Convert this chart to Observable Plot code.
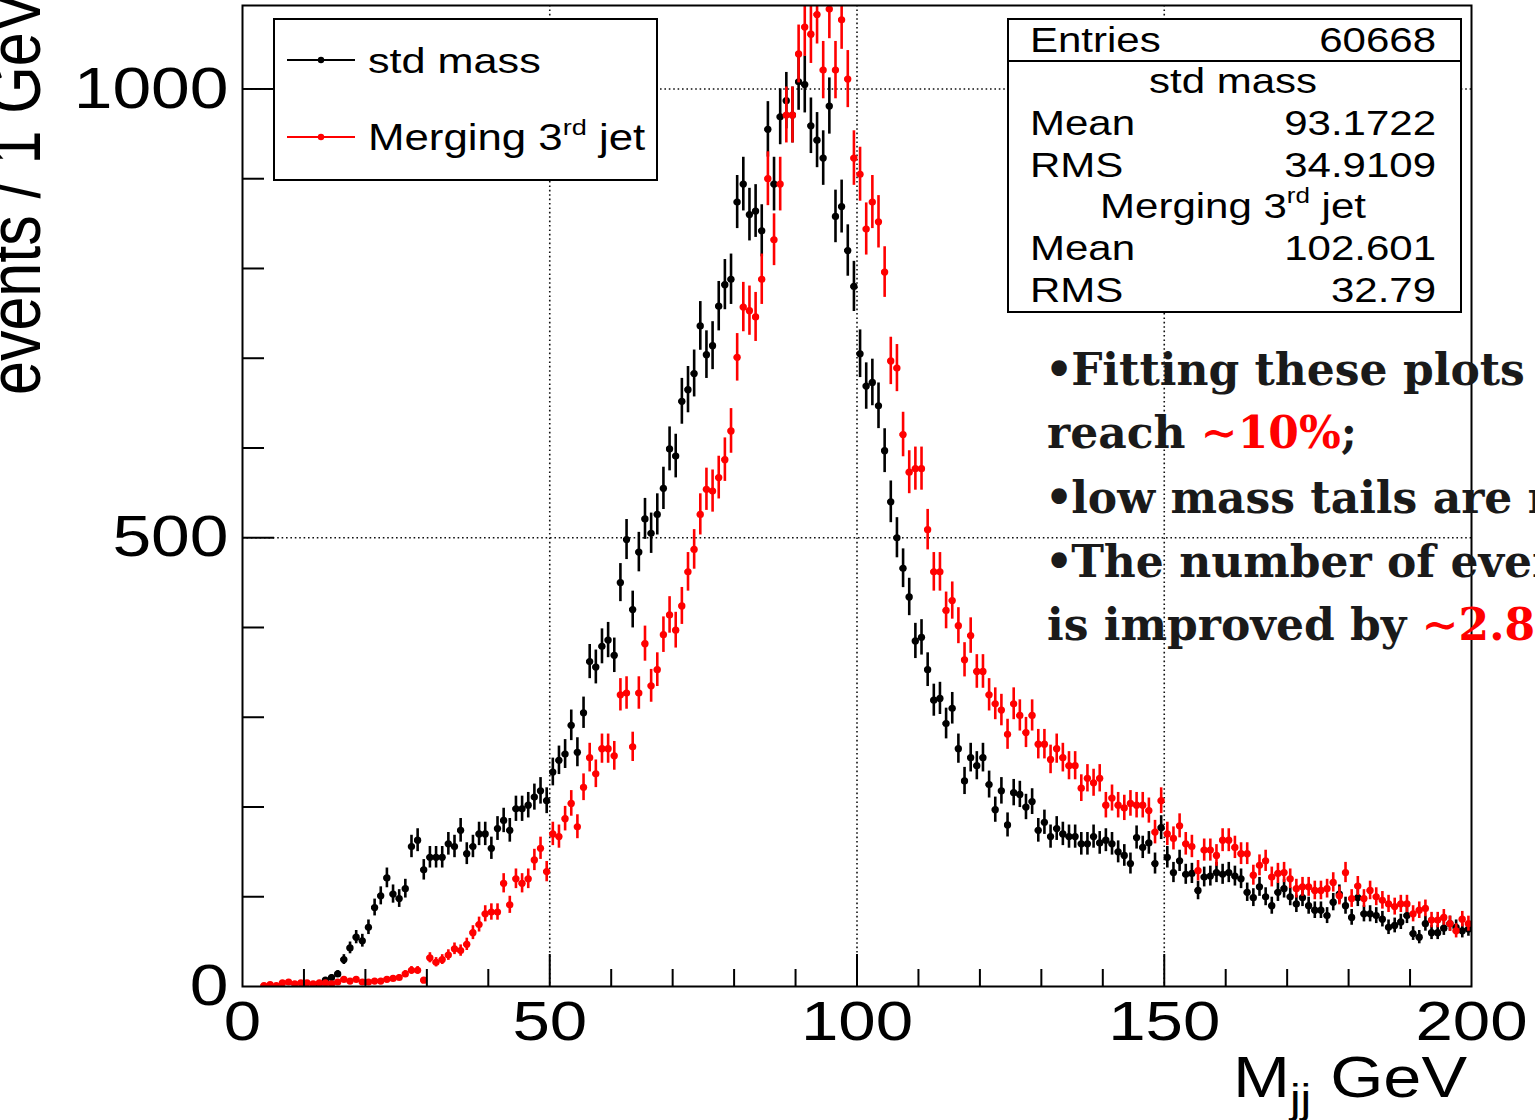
<!DOCTYPE html>
<html>
<head>
<meta charset="utf-8">
<script src="https://cdn.jsdelivr.net/npm/d3@7"></script>
<script src="https://cdn.jsdelivr.net/npm/@observablehq/plot@0.6"></script>
<style>
  html, body { margin: 0; padding: 0; background: #fff; overflow: hidden; }
  #wrap { position: relative; width: 1535px; height: 1120px; overflow: hidden; background: #fff; }
  #wrap svg { position: absolute; left: 0; top: 0; }
</style>
</head>
<body>
<div id="wrap"></div>
<script>
// ---------------- data ----------------
// 1 GeV bins, low edges 0..199
const binLow = d3.range(0, 200);

// events per bin, "std mass" (black)
const stdMass = [
  0,0,0,0,0,0,0,0,0,0,           // 0-9
  0,0,3,7,10,14,30,43,55,51,     // 10-19
  66,88,101,121,103,98,109,156,163,130, // 20-29
  144,144,144,159,156,174,148,156,170,170, // 30-39
  154,176,185,174,198,198,202,211,218,207, // 40-49
  239,252,259,291,261,305,362,356,379,386, // 50-59
  369,450,498,420,484,521,505,526,555,599, // 60-69
  591,652,665,683,736,704,714,758,782,788, // 70-79
  874,894,860,864,842,955,894,969,987,971, // 80-89
  1008,1005,959,943,923,981,858,869,820,780, // 90-99
  705,669,673,647,597,540,500,466,434,385, // 100-109
  389,353,319,321,293,310,265,229,255,246, // 110-119
  255,225,197,218,180,216,214,200,206,174, // 120-129
  183,167,176,170,167,167,159,159,167,160, // 130-139
  163,159,150,146,137,166,155,160,137,177, // 140-149
  144,127,140,125,126,107,122,123,127,125, // 150-159
  127,123,120,105,99,111,100,90,105,109,   // 160-169
  100,92,99,90,85,85,79,94,103,90,         // 170-179
  77,99,81,81,79,75,66,68,72,79,           // 180-189
  59,55,70,60,60,65,70,66,62,64            // 190-199
];

// events per bin, "Merging 3rd jet" (red)
const merging3rd = [
  0,0,0,1,2,1,4,5,3,4,           // 0-9
  4,3,4,4,3,5,8,6,8,5,           // 10-19
  5,6,6,8,9,10,14,18,18,7,       // 20-29
  32,27,30,35,42,40,47,60,69,81, // 30-39
  83,83,115,91,120,115,120,141,154,128, // 40-49
  170,167,187,204,178,222,255,237,265,265, // 50-59
  257,325,327,267,327,382,335,353,392,414, // 60-69
  397,424,462,487,526,554,552,567,587,619, // 70-79
  701,757,753,746,788,900,832,894,971,971, // 80-89
  1039,1069,1061,1083,1021,1089,1021,1077,1011,923, // 90-99
  905,844,874,852,796,697,689,615,573,577, // 100-109
  577,509,462,462,419,430,402,364,391,351, // 110-119
  351,325,315,308,281,315,302,283,302,270, // 120-129
  270,253,265,255,246,246,221,232,227,232, // 130-139
  202,210,202,199,204,202,202,196,172,207, // 140-149
  170,165,179,159,156,129,152,152,146,163, // 150-159
  163,155,148,148,124,135,140,122,126,127, // 160-169
  120,109,111,111,107,107,109,116,101,127, // 170-179
  98,112,98,107,100,96,92,89,92,92,        // 180-189
  81,85,87,74,74,77,70,62,75,70            // 190-199
];

const xMajorTicks = [50, 100, 150];
const xMinorTicks = [10, 20, 30, 40, 60, 70, 80, 90, 110, 120, 130, 140, 160, 170, 180, 190];
const yMajorTicks = [500, 1000];
const yMinorTicks = [100, 200, 300, 400, 600, 700, 800, 900];
const xTickLabels = [0, 50, 100, 150, 200];
const yTickLabels = [0, 500, 1000];

const seriesNames = ["std mass", "Merging 3rd jet"];
const seriesColors = ["#000000", "#ff0000"];

const statsEntries = "60668";
const statsRows = [
  {name: "std mass", mean: "93.1722", rms: "34.9109"},
  {name: "Merging 3rd jet", mean: "102.601", rms: "32.79"}
];

// ---------------- build ----------------
function rowsFor(values) {
  return binLow.map((lo, i) => ({lo, hi: lo + 1, mid: lo + 0.5, n: values[i]}))
               .filter(d => d.n > 0);
}
const blackRows = rowsFor(stdMass);
const redRows = rowsFor(merging3rd);

function histMarks(rows, color) {
  return [
    Plot.ruleX(rows, {x: "mid", y1: d => d.n - Math.sqrt(d.n), y2: d => d.n + Math.sqrt(d.n),
                      stroke: color, strokeWidth: 2.6, clip: true}),
    Plot.ruleY(rows, {y: "n", x1: "lo", x2: "hi", stroke: color, strokeWidth: 3, clip: true}),
    Plot.dot(rows, {x: "mid", y: "n", r: 3.6, fill: color, stroke: "none", clip: true})
  ];
}

const W = 1535, H = 1120, ML = 242, MR = 64, MT = 5, MB = 134;
const FW = W - ML - MR, FH = H - MT - MB;
const dotted = {stroke: "#111", strokeOpacity: 1, strokeWidth: 1.6, strokeDasharray: "1.6,2.8"};

const svg = Plot.plot({
  width: W, height: H,
  marginLeft: ML, marginRight: MR, marginTop: MT, marginBottom: MB,
  x: {domain: [0, 200]},
  y: {domain: [0, 1093]},
  style: {fontFamily: "'Liberation Sans', Arial, sans-serif", background: "#fff", color: "#000"},
  marks: [
    Plot.gridX(xMajorTicks, dotted),
    Plot.gridY(yMajorTicks, dotted),
    ...histMarks(blackRows, seriesColors[0]),
    ...histMarks(redRows, seriesColors[1]),
    Plot.tickX(xMinorTicks, {x: d => d, insetTop: FH - 17, stroke: "#000", strokeWidth: 2}),
    Plot.tickX(xMajorTicks, {x: d => d, insetTop: FH - 32, stroke: "#000", strokeWidth: 2}),
    Plot.tickY(yMinorTicks, {y: d => d, insetRight: FW - 22, stroke: "#000", strokeWidth: 2}),
    Plot.tickY(yMajorTicks, {y: d => d, insetRight: FW - 32, stroke: "#000", strokeWidth: 2}),
    Plot.frame({stroke: "#000", strokeWidth: 2}),
    Plot.axisX({ticks: xTickLabels, tickSize: 0, tickPadding: 14, fontSize: 56,
                tickFormat: d => String(d), label: null, fill: "#000"}),
    Plot.axisY({ticks: yTickLabels, tickSize: 0, tickPadding: 14, fontSize: 58,
                tickFormat: d => String(d), label: null, fill: "#000"})
  ]
});
document.getElementById("wrap").appendChild(svg);

const root = d3.select(svg);
const STRETCH = 1.2;

// widen the axis tick labels like the reference
root.selectAll('g[aria-label="x-axis tick label"] text, g[aria-label="y-axis tick label"] text').each(function () {
  const tr = this.getAttribute("transform");
  if (tr) this.setAttribute("transform", tr + ` scale(${STRETCH},1)`);
  else {
    const x = this.getAttribute("x") || 0, y = this.getAttribute("y") || 0;
    this.removeAttribute("x"); this.removeAttribute("y");
    this.setAttribute("transform", `translate(${x},${y}) scale(${STRETCH},1)`);
  }
});

const SANS = "'Liberation Sans', Arial, sans-serif";
const SERIF = "'DejaVu Serif', serif";
const over = root.append("g");

function addText(x, y, parts, o = {}) {
  const size = o.size || 35;
  const t = over.append("text")
    .attr("transform", o.rotate ? `translate(${x},${y}) rotate(${o.rotate}) scale(1,${o.stretch ?? STRETCH})`
                                : `translate(${x},${y}) scale(${o.stretch ?? STRETCH},1)`)
    .attr("text-anchor", o.anchor || "start")
    .attr("font-family", o.family || SANS)
    .attr("font-weight", o.weight || "normal")
    .attr("font-size", size)
    .attr("fill", o.fill || "#000");
  let shift = 0;
  for (const p of parts) {
    const ts = t.append("tspan").text(p.t);
    let target = 0;
    if (p.sup) { target = -0.42 * size; ts.attr("font-size", size * 0.62); }
    if (p.sub) { target = 0.28 * size; ts.attr("font-size", size * 0.7); }
    if (target !== shift) { ts.attr("dy", target - shift); shift = target; }
    if (p.fill) ts.attr("fill", p.fill);
    if (p.dx) ts.attr("dx", p.dx);
  }
  return t;
}
function mergingParts() { return [{t: "Merging 3"}, {t: "rd", sup: true}, {t: " jet"}]; }

// ---- legend ----
over.append("rect").attr("x", 274).attr("y", 19).attr("width", 383).attr("height", 161)
  .attr("fill", "#fff").attr("stroke", "#000").attr("stroke-width", 2);
[[60, 0], [137, 1]].forEach(([ly, k]) => {
  over.append("line").attr("x1", 287).attr("x2", 355).attr("y1", ly).attr("y2", ly)
    .attr("stroke", seriesColors[k]).attr("stroke-width", 2);
  over.append("circle").attr("cx", 321).attr("cy", ly).attr("r", 3.2).attr("fill", seriesColors[k]);
});
addText(368, 73, [{t: seriesNames[0]}], {size: 36});
addText(368, 150, mergingParts(), {size: 36.5});

// ---- stats box ----
over.append("rect").attr("x", 1008).attr("y", 19).attr("width", 453).attr("height", 293)
  .attr("fill", "#fff").attr("stroke", "#000").attr("stroke-width", 2);
over.append("line").attr("x1", 1008).attr("x2", 1461).attr("y1", 61).attr("y2", 61)
  .attr("stroke", "#000").attr("stroke-width", 2);
const SL = 1030, SR = 1436, SC = 1233;
addText(SL, 52, [{t: "Entries"}]);
addText(SR, 52, [{t: statsEntries}], {anchor: "end"});
addText(SC, 93, [{t: statsRows[0].name}], {anchor: "middle"});
addText(SL, 135, [{t: "Mean"}]);
addText(SR, 135, [{t: statsRows[0].mean}], {anchor: "end"});
addText(SL, 177, [{t: "RMS"}]);
addText(SR, 177, [{t: statsRows[0].rms}], {anchor: "end"});
addText(SC, 218, mergingParts(), {anchor: "middle"});
addText(SL, 260, [{t: "Mean"}]);
addText(SR, 260, [{t: statsRows[1].mean}], {anchor: "end"});
addText(SL, 302, [{t: "RMS"}]);
addText(SR, 302, [{t: statsRows[1].rms}], {anchor: "end"});

// ---- axis titles ----
addText(1467, 1097, [{t: "M"}, {t: "jj", sub: true}, {t: " GeV"}], {anchor: "end", size: 57});
addText(40, 395, [{t: "events / 1 GeV"}], {rotate: -90, size: 61});

// ---- annotation ----
const RED = "#ff0000";
const annoOpts = {family: SERIF, weight: "bold", size: 44, stretch: 1, fill: "#1a1a1a"};
addText(1045, 385, [{t: "•"}, {t: "Fitting these plots a", dx: -2}], annoOpts);
addText(1047, 448, [{t: "reach "}, {t: "∼10%", fill: RED}, {t: ";"}], annoOpts);
addText(1045, 513, [{t: "•"}, {t: "low mass tails are r", dx: -2}], annoOpts);
addText(1045, 577, [{t: "•"}, {t: "The number of even", dx: -2}], annoOpts);
addText(1047, 640, [{t: "is improved by "}, {t: "∼2.8", fill: RED}], annoOpts);
</script>
</body>
</html>
